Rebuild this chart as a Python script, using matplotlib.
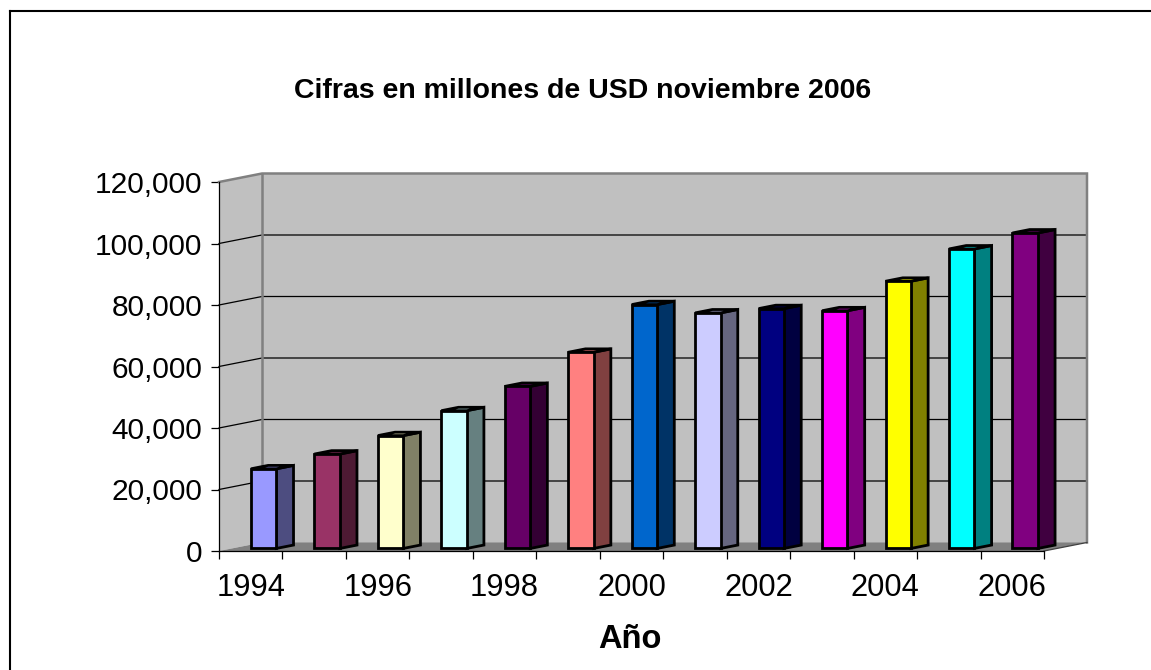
import matplotlib
matplotlib.use('Agg')
import matplotlib.pyplot as plt
from matplotlib.patches import Polygon
from matplotlib.lines import Line2D
from matplotlib.colors import to_rgb

# ---- data ----
years = list(range(1994, 2007))
values = [25900, 30700, 36700, 44800, 52700, 63800, 79300, 76600, 78000, 77300, 86900, 97400, 102600]
front_colors = ['#9999FF', '#993366', '#FFFFCC', '#CCFFFF', '#660066', '#FF8080', '#0066CC',
                '#CCCCFF', '#000080', '#FF00FF', '#FFFF00', '#00FFFF', '#800080']
yticks = [0, 20000, 40000, 60000, 80000, 100000, 120000]
title = 'Cifras en millones de USD noviembre 2006'
xlabel = 'Año'

plt.rcParams['font.family'] = ['Liberation Sans', 'DejaVu Sans']

W, H = 1151, 670
fig = plt.figure(figsize=(W / 100, H / 100), dpi=100)

n = len(years)
ymax = yticks[-1]
# pixel geometry of the front plane and depth offset
x0px, x1px = 219, 1044
y0px, ytop = 551, 182
dxpx, dypx = 43, 8.5
cat_px = (x1px - x0px) / n
val_px = (y0px - ytop) / ymax
dxc = dxpx / cat_px
dyv = dypx / val_px

ax = fig.add_axes([x0px / W, (H - y0px) / H, (x1px - x0px + dxpx) / W, (y0px - ytop + dypx) / H])
ax.set_xlim(0, n + dxc)
ax.set_ylim(0, ymax + dyv)
ax.patch.set_visible(False)

wall = '#C0C0C0'
edge_gray = '#808080'
# side wall and back wall
ax.add_patch(Polygon([(0, 0), (0, ymax), (dxc, ymax + dyv), (dxc, dyv)], closed=True,
                     fc=wall, ec='none', zorder=1))
ax.add_patch(Polygon([(dxc, dyv), (dxc, ymax + dyv), (n + dxc, ymax + dyv), (n + dxc, dyv)], closed=True,
                     fc=wall, ec='none', zorder=1))
# gridlines
for v in yticks[1:-1]:
    ax.plot([0, dxc, n + dxc], [v, v + dyv, v + dyv], color='black', lw=0.9, zorder=2, clip_on=False)
# wall edges
ax.plot([0, dxc, n + dxc, n + dxc], [ymax, ymax + dyv, ymax + dyv, dyv], color=edge_gray, lw=1.8,
        zorder=2, clip_on=False, solid_joinstyle='miter')
ax.plot([dxc, dxc], [dyv, ymax + dyv], color=edge_gray, lw=1.8, zorder=2, clip_on=False)
# floor
ax.add_patch(Polygon([(0, 0), (n, 0), (n + dxc, dyv), (dxc, dyv)], closed=True,
                     fc='#808080', ec='none', zorder=3))
ax.plot([n, n + dxc], [0, dyv], color='#404040', lw=0.9, zorder=3, clip_on=False)

# bars
w = 0.4
depth = 0.4
f = 0.3
for i, (v, c) in enumerate(zip(values, front_colors)):
    r, g, b = to_rgb(c)
    side_c = (r * 0.5, g * 0.5, b * 0.5)
    top_c = (r * 0.8, g * 0.8, b * 0.8)
    bx = i + (1 - w) / 2 + f * dxc
    by = f * dyv
    ddx = depth * dxc
    ddy = depth * dyv
    front = [(bx, by), (bx + w, by), (bx + w, by + v), (bx, by + v)]
    side = [(bx + w, by), (bx + w + ddx, by + ddy), (bx + w + ddx, by + v + ddy), (bx + w, by + v)]
    top = [(bx, by + v), (bx + w, by + v), (bx + w + ddx, by + v + ddy), (bx + ddx, by + v + ddy)]
    for poly, col in ((side, side_c), (top, top_c), (front, c)):
        ax.add_patch(Polygon(poly, closed=True, fc=col, ec='black', lw=2.0, joinstyle='miter',
                             zorder=5, clip_on=False))

# axes
for s in ('top', 'right'):
    ax.spines[s].set_visible(False)
ax.spines['left'].set_bounds(0, ymax)
ax.spines['bottom'].set_bounds(0, n)
ax.spines['left'].set_color('black')
ax.spines['bottom'].set_color('black')
ax.spines['left'].set_linewidth(0.9)
ax.spines['bottom'].set_linewidth(0.9)
ax.spines['left'].set_zorder(4)
ax.spines['bottom'].set_zorder(4)

ax.set_yticks(yticks)
ax.set_yticklabels([f'{v:,}' for v in yticks])
ax.tick_params(axis='y', length=6, width=0.9, pad=6, labelsize=21.5, colors='black')

ax.set_xticks(range(n + 1))
ax.set_xticklabels([])
ax.tick_params(axis='x', which='major', length=6, width=0.9, direction='out')
label_pos = [i + 0.5 for i in range(0, n, 2)]
ax.set_xticks(label_pos, minor=True)
ax.set_xticklabels([str(y) for y in years[::2]], minor=True)
ax.tick_params(axis='x', which='minor', length=0, pad=16, labelsize=22.2)

fig.text(583 / W, 1 - 91 / H, title, ha='center', va='center', fontsize=20.5, fontweight='bold')
fig.text(630 / W, 1 - 640 / H, xlabel, ha='center', va='center', fontsize=23.5, fontweight='bold')

# chart border (left and top visible)
fig.add_artist(Line2D([9.5 / W, 9.5 / W], [0, 1 - 11 / H], transform=fig.transFigure, color='black', lw=1.5))
fig.add_artist(Line2D([9.5 / W, 1], [1 - 11 / H, 1 - 11 / H], transform=fig.transFigure, color='black', lw=1.5))

fig.savefig('out.png', dpi=100, facecolor='white')
